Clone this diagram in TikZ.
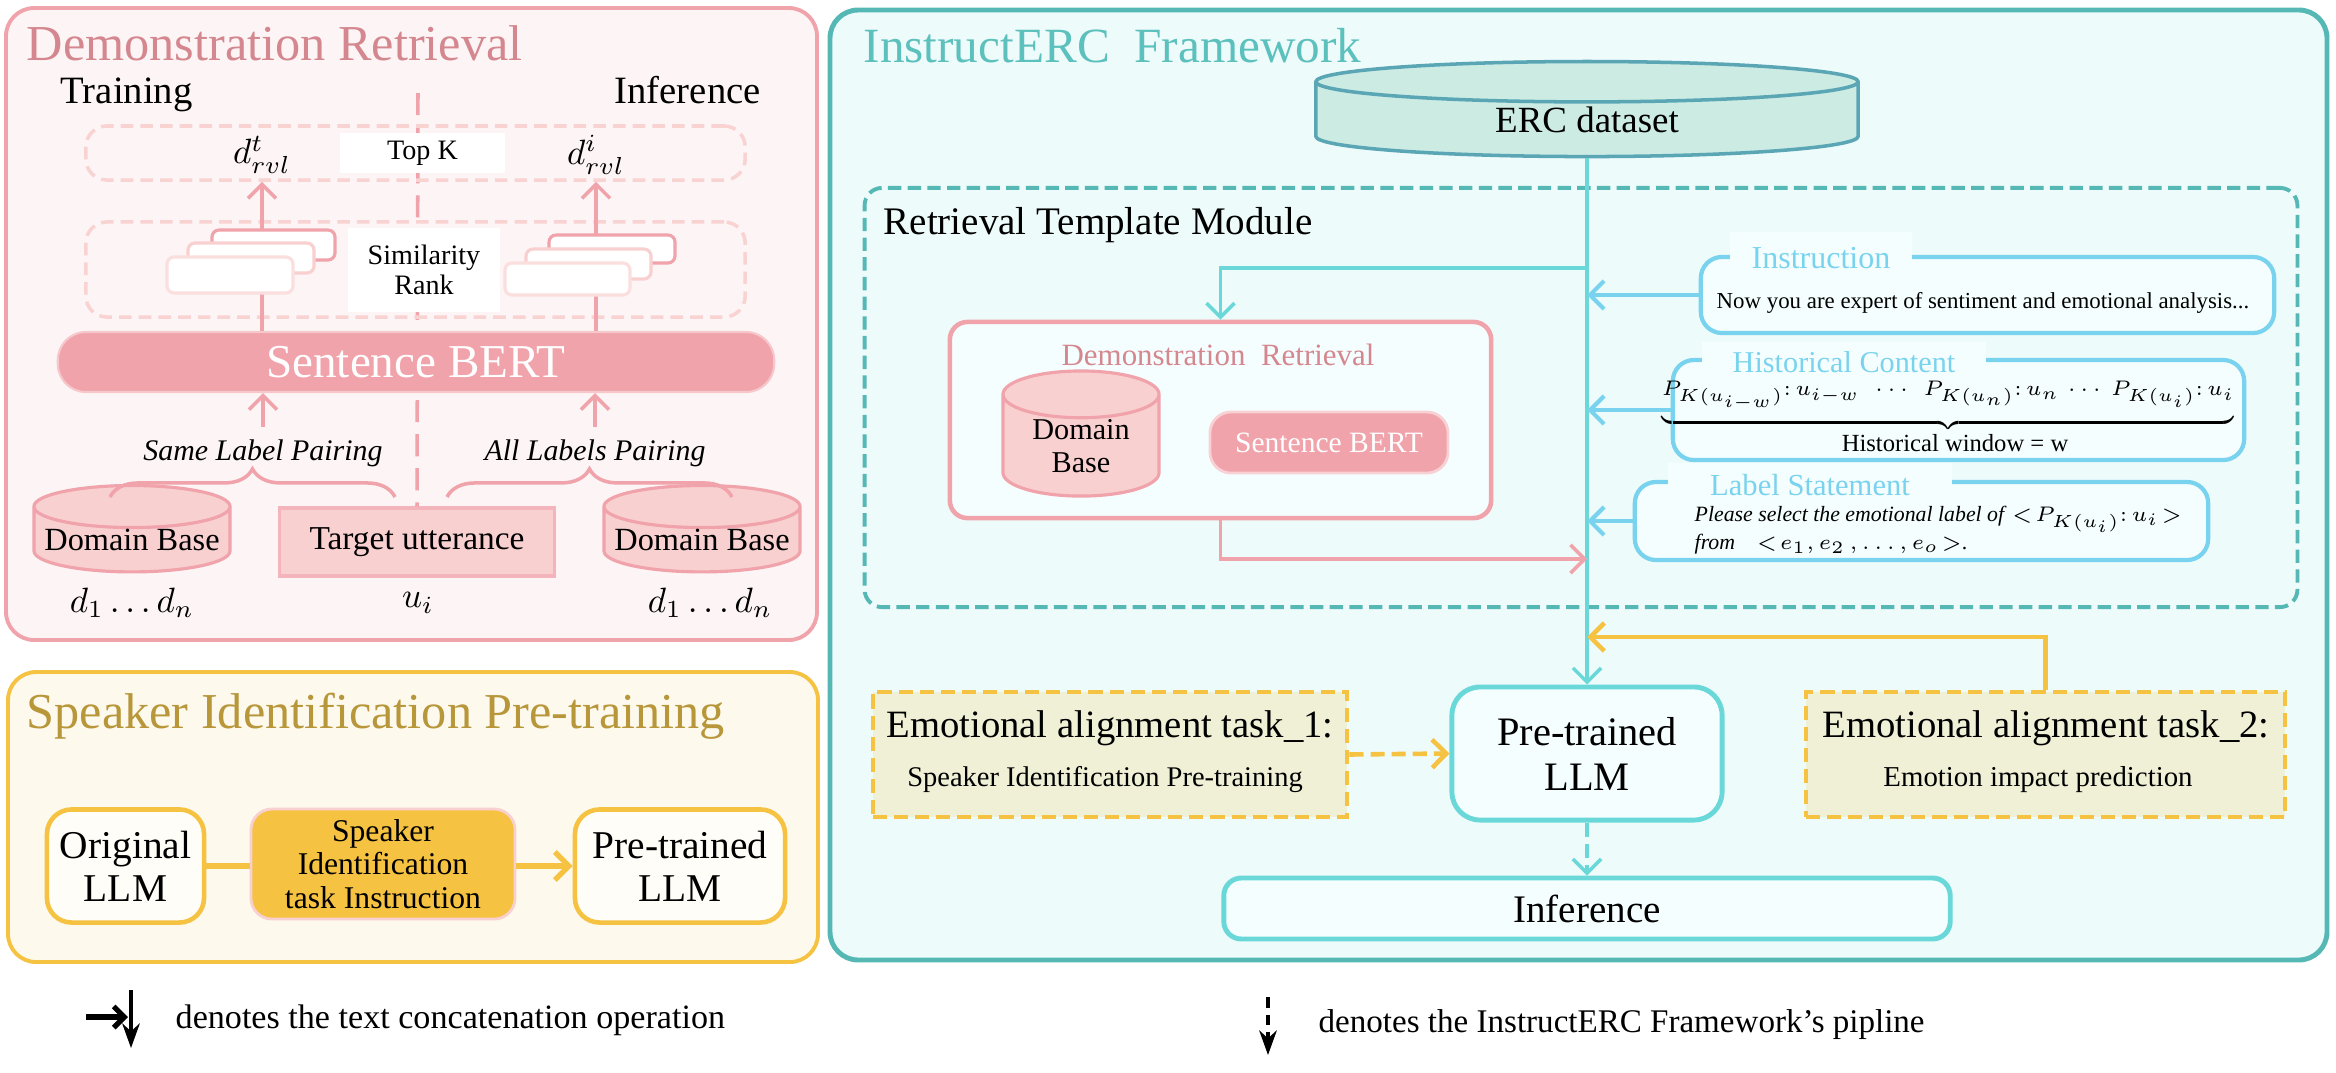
\documentclass[tikz,border=0pt]{standalone}
\usepackage{fontspec}
\setmainfont{Liberation Serif}
\usepackage{amsmath}
\usetikzlibrary{shapes.geometric,arrows.meta,decorations.pathreplacing}

\definecolor{pinkline}{HTML}{F0A3AA}
\definecolor{pinkbg}{HTML}{FDF5F5}
\definecolor{pinktitle}{HTML}{D4878F}
\definecolor{pinklight}{HTML}{F9D2D2}
\definecolor{pinkfill}{HTML}{F9D0D0}
\definecolor{gold}{HTML}{F5C242}
\definecolor{goldbg}{HTML}{FDF9EC}
\definecolor{goldtitle}{HTML}{B8963A}
\definecolor{olivebg}{HTML}{F0F0D6}
\definecolor{tealline}{HTML}{56B8B5}
\definecolor{tealbg}{HTML}{EDFBFB}
\definecolor{tealtitle}{HTML}{5CC0BD}
\definecolor{tealflow}{HTML}{6AD8D8}
\definecolor{dbfill}{HTML}{CBEBE3}
\definecolor{dbline}{HTML}{5BA6B5}
\definecolor{skyline}{HTML}{7AD3EE}
\definecolor{boxbg}{HTML}{F5FEFE}

\newcommand{\fsz}[2]{\fontsize{#1}{#2}\selectfont}

\begin{document}
\begin{tikzpicture}[x=0.01cm,y=-0.01cm,>={Straight Barb[length=4pt,width=8pt]}]
    \tikzstyle{panel}=[line width=1.1pt, rounded corners=8pt]
    \tikzstyle{paneltitle}=[anchor=base west, inner sep=0pt, font=\fsz{14.3}{17}]
    \tikzstyle{pinkgroup}=[draw=pinklight, line width=1pt, dash pattern=on 3.6pt off 2pt, rounded corners=6pt, inner sep=0pt]
    \tikzstyle{whitelabel}=[fill=white, inner sep=0pt, align=center]
    \tikzstyle{card}=[fill=white, line width=0.9pt, rounded corners=2pt]
    \tikzstyle{pinkarrow}=[draw=pinkline, line width=1pt]
    \tikzstyle{pinkdb}=[cylinder, shape border rotate=90, draw=pinkline, fill=pinkfill, line width=0.9pt, inner sep=0pt, align=center]
    \tikzstyle{goldbox}=[draw=gold, line width=1.3pt, rounded corners=7pt, fill=white!60!goldbg, align=center, inner sep=0pt]
    \tikzstyle{taskbox}=[draw=gold, fill=olivebg, line width=1.3pt, dash pattern=on 4pt off 2pt, inner sep=0pt]
    \tikzstyle{skybox}=[draw=skyline, line width=1.2pt, rounded corners=6pt, fill=boxbg, inner sep=0pt]
    \tikzstyle{skylabel}=[fill=boxbg, text=skyline, inner sep=0pt]
    \tikzstyle{flowbox}=[draw=tealflow, line width=1.4pt, rounded corners=8pt, fill=boxbg, align=center, inner sep=0pt]
    \tikzstyle{flow}=[draw=tealflow, line width=1pt]

    \fill[white] (0,0) rectangle (2336,1072);
    \useasboundingbox (0,0) rectangle (2336,1072);

    \draw[panel, draw=pinkline, fill=pinkbg] (6,8) rectangle (817,640);
    \draw[panel, draw=gold, fill=goldbg] (8,672) rectangle (818,962);
    \draw[panel, draw=tealline, fill=tealbg, line width=1.4pt] (830,10) rectangle (2327,960);

    \node[paneltitle, text=pinktitle] (drtitle) at (26,60) {Demonstration Retrieval};
    \node[anchor=base west, inner sep=0pt, font=\fsz{11}{13}] (train) at (60,103) {Training};
    \node[anchor=base west, inner sep=0pt, font=\fsz{11}{13}] (infer) at (614,103) {Inference};

    \node[pinkdb, aspect=0.24, minimum width=1.96cm, minimum height=0.66cm, font=\fsz{9.2}{11}] (dbl) at (132,540) {Domain Base};
    \node[draw=pinkline!80, fill=pinkfill, line width=0.9pt, minimum width=2.75cm, minimum height=0.68cm, font=\fsz{9.5}{11}] (target) at (417,542) {Target utterance};
    \node[pinkdb, aspect=0.24, minimum width=1.96cm, minimum height=0.66cm, font=\fsz{9.2}{11}] (dbr) at (702,540) {Domain Base};

    \coordinate (split) at (418,93);
    \draw[pinkline, line width=1pt, dash pattern=on 6.3pt off 3.4pt] (split) -- (target.north);

    \node[pinkgroup, minimum width=6.59cm, minimum height=0.54cm] (topk) at (415.5,153) {};
    \node[pinkgroup, minimum width=6.59cm, minimum height=0.95cm] (simbox) at (415.5,269.5) {};
    \node[fill=pinkline, draw=pinkline!60, line width=0.6pt, rounded corners=8pt, minimum width=7.16cm, minimum height=0.6cm, text=white, font=\fsz{13.4}{15}] (sbert) at (416,362) {Sentence BERT};

    \node[font=\fsz{10}{12}] (dt) at (262,155) {$d^{t}_{rvl}$};
    \node[font=\fsz{10}{12}] (di) at (596,155) {$d^{i}_{rvl}$};
    \node[whitelabel, minimum width=1.65cm, minimum height=0.4cm, font=\fsz{8}{9}] (topklab) at (422.5,153) {Top K};

    \draw[pinkarrow,->] (sbert.north -| dt) -- (topk.south -| dt);
    \draw[pinkarrow,->] (sbert.north -| di) -- (topk.south -| di);

    \draw[card, draw=pinkline] (212,230) rectangle (335,260);
    \draw[card, draw=pinkfill] (188,243) rectangle (314,273);
    \draw[card, draw=pinkfill!70] (167,257) rectangle (293,293);
    \draw[card, draw=pinkline] (549,235) rectangle (675,263);
    \draw[card, draw=pinkfill] (526,249) rectangle (651,279);
    \draw[card, draw=pinkfill!70] (505,263) rectangle (630,295);
    \node[whitelabel, minimum width=1.52cm, minimum height=0.84cm, font=\fsz{8}{8.6}] (simlab) at (424,270) {Similarity\\Rank};

    \node[font=\fsz{8.5}{10}\itshape] (samelab) at (263,453) {Same Label Pairing};
    \node[font=\fsz{8.5}{10}\itshape] (alllab) at (595,453) {All Labels Pairing};
    \draw[pinkarrow,->] (samelab.north) -- (samelab.north |- sbert.south);
    \draw[pinkarrow,->] (alllab.north) -- (alllab.north |- sbert.south);
    \draw[pinkline, line width=1pt, decorate, decoration={brace, amplitude=8pt}] (110,497) -- (395,497);
    \draw[pinkline, line width=1pt, decorate, decoration={brace, amplitude=8pt}] (447,497) -- (732,497);

    \node[font=\fsz{10}{12}] (dl) at (132,603) {$d_1\ldots d_n$};
    \node[font=\fsz{10}{12}] (ui) at (418,603) {$u_i$};
    \node[font=\fsz{10}{12}] (dr) at (710,603) {$d_1\ldots d_n$};

    \node[paneltitle, text=goldtitle] (siptitle) at (26,728) {Speaker Identification Pre-training};
    \node[goldbox, minimum width=1.57cm, minimum height=1.13cm, font=\fsz{11.2}{12.3}] (origllm) at (125.5,866) {Original\\LLM};
    \node[fill=gold, draw=pinkfill, line width=0.8pt, rounded corners=6pt, minimum width=2.64cm, minimum height=1.10cm, align=center, inner sep=0pt, font=\fsz{9}{9.6}] (sitask) at (383,864) {Speaker\\Identification\\task Instruction};
    \node[goldbox, minimum width=2.10cm, minimum height=1.13cm, font=\fsz{11.2}{12.3}] (ptllm) at (680,866) {Pre-trained\\LLM};
    \draw[gold, line width=1.5pt] (origllm.east) -- (origllm.east -| sitask.west);
    \draw[gold, line width=1.5pt, ->] (sitask.east |- ptllm.west) -- (ptllm.west);

    \coordinate (cata) at (86,1017);
    \coordinate (catb) at (128,1017);
    \coordinate (catc) at (131,990);
    \coordinate (catd) at (131,1048);
    \draw[line width=1.5pt, -{Straight Barb[length=3pt,width=6pt]}] (cata) -- (catb);
    \draw[line width=1pt, -{Stealth[length=7pt,width=5pt]}] (catc) -- (catd);
    \node[anchor=west, inner sep=0pt, font=\fsz{9.7}{12}] (catnote) at (175,1020) {denotes the text concatenation operation};

    \coordinate (pipa) at (1268,997);
    \coordinate (pipb) at (1268,1055);
    \draw[line width=1pt, dash pattern=on 3pt off 2pt, -{Stealth[length=7pt,width=5pt]}] (pipa) -- (pipb);
    \node[anchor=west, inner sep=0pt, font=\fsz{9.4}{12}] (pipnote) at (1318,1025) {denotes the InstructERC Framework’s pipline};

    \node[paneltitle, font=\fsz{14}{17}, text=tealtitle] (ititle) at (863,62) {InstructERC\ \ Framework};
    \node[cylinder, shape border rotate=90, aspect=0.22, draw=dbline, fill=dbfill, line width=1pt, minimum width=5.42cm, minimum height=0.95cm, inner sep=0pt, font=\fsz{10.5}{12}] (erc) at (1587,120) {ERC dataset};

    \node[draw=tealline, line width=1.1pt, dash pattern=on 3.8pt off 1.8pt, rounded corners=5pt, minimum width=14.32cm, minimum height=4.19cm, inner sep=0pt] (rtm) at (1581,397.5) {};
    \node[anchor=west, inner sep=0pt, font=\fsz{11.1}{13}] (rtmlab) at (883,225) {Retrieval Template Module};

    \node[draw=pinkline, line width=1.3pt, rounded corners=5pt, fill=boxbg, minimum width=5.41cm, minimum height=1.96cm, inner sep=0pt] (drbox) at (1220.5,420) {};
    \node[text=pinktitle, font=\fsz{8.8}{10}] (drlab) at (1218,355) {Demonstration\ \ Retrieval};
    \node[pinkdb, aspect=0.48, minimum width=1.56cm, minimum height=1.08cm, font=\fsz{8.6}{9.4}] (dbin) at (1081,446) {Domain\\Base};
    \node[fill=pinkline, draw=pinkline!50, line width=0.8pt, rounded corners=6pt, minimum width=2.38cm, minimum height=0.61cm, text=white, font=\fsz{8.4}{10}] (sbertin) at (1329,442.5) {Sentence BERT};

    \node[skybox, minimum width=5.73cm, minimum height=0.76cm] (instr) at (1987.5,295) {};
    \node[skylabel, minimum width=1.82cm, minimum height=0.53cm, font=\fsz{9.1}{11}] (instrlab) at (1821,258.5) {Instruction};
    \node[anchor=west, inner sep=0pt, font=\fsz{6.5}{8}] (instrtxt) at (1716,303) {Now you are expert of sentiment and emotional analysis...};

    \node[skybox, minimum width=5.71cm, minimum height=1.0cm] (hist) at (1958.5,410) {};
    \node[skylabel, minimum width=2.84cm, minimum height=0.40cm, font=\fsz{8.6}{10}] (histlab) at (1844,362) {Historical Content};
    \node[inner sep=0pt, font=\fsz{6.3}{7}] (histmath) at (1948,408) {$\underbrace{P_{K(u_{i-w})}{:}\,u_{i-w}\ \ \cdots\ \ P_{K(u_n)}{:}\,u_n\,\cdots\ P_{K(u_i)}{:}\,u_i}$};
    \node[inner sep=1pt, font=\fsz{7}{8}] (histwin) at (1955,443) {Historical window = w};

    \node[skybox, minimum width=5.73cm, minimum height=0.78cm] (labst) at (1921.5,521) {};
    \node[skylabel, minimum width=2.84cm, minimum height=0.44cm, font=\fsz{8.7}{10}] (labstlab) at (1810,485) {Label Statement};
    \node[anchor=west, align=left, inner sep=0pt, font=\fsz{6.2}{8}] (labsttxt) at (1694,530) {\textit{Please select the emotional label of} $<\!P_{K(u_i)}{:}\,u_i\!>$\\\textit{from}\quad $<\!e_1, e_2\,, \ldots, e_o\!>$.};

    \node[taskbox, minimum width=4.74cm, minimum height=1.25cm] (task1) at (1110,754.5) {};
    \node[font=\fsz{11}{13}] (task1a) at (1110,728) {Emotional alignment task\_1:};
    \node[font=\fsz{8.1}{10}] (task1b) at (1105,780) {Speaker Identification Pre-training};
    \node[flowbox, minimum width=2.70cm, minimum height=1.33cm, font=\fsz{11.5}{12.8}] (pllm) at (1587,753.5) {Pre-trained\\LLM};
    \node[taskbox, minimum width=4.79cm, minimum height=1.25cm] (task2) at (2045.5,754.5) {};
    \node[font=\fsz{11}{13}] (task2a) at (2046,728) {Emotional alignment task\_2:};
    \node[font=\fsz{8.2}{10}] (task2b) at (2038,780) {Emotion impact prediction};
    \node[flowbox, rounded corners=5pt, minimum width=7.26cm, minimum height=0.61cm, font=\fsz{11.1}{13}] (inf) at (1587,908.5) {Inference};

    \coordinate (branch) at (1587,268);
    \coordinate (drjoin) at (1587,559);
    \coordinate (goldjoin) at (1587,637);

    \draw[flow,->] (erc.south) -- (pllm.north);
    \draw[flow,->] (branch) -| (drbox.north);
    \draw[pinkarrow,->] (drbox.south) |- (drjoin);
    \draw[skyline, line width=1.2pt, ->] (instr.west) -- (instr.west -| erc.south);
    \draw[skyline, line width=1.2pt, ->] (hist.west) -- (hist.west -| erc.south);
    \draw[skyline, line width=1.2pt, ->] (labst.west) -- (labst.west -| erc.south);
    \draw[gold, line width=1.3pt, ->] (task2.north) |- (goldjoin);
    \draw[gold, line width=1.3pt, dash pattern=on 4pt off 2pt, ->] (task1.east) -- (pllm.west);
    \draw[flow, dash pattern=on 4pt off 2pt, ->] (pllm.south) -- (inf.north);
\end{tikzpicture}
\end{document}
